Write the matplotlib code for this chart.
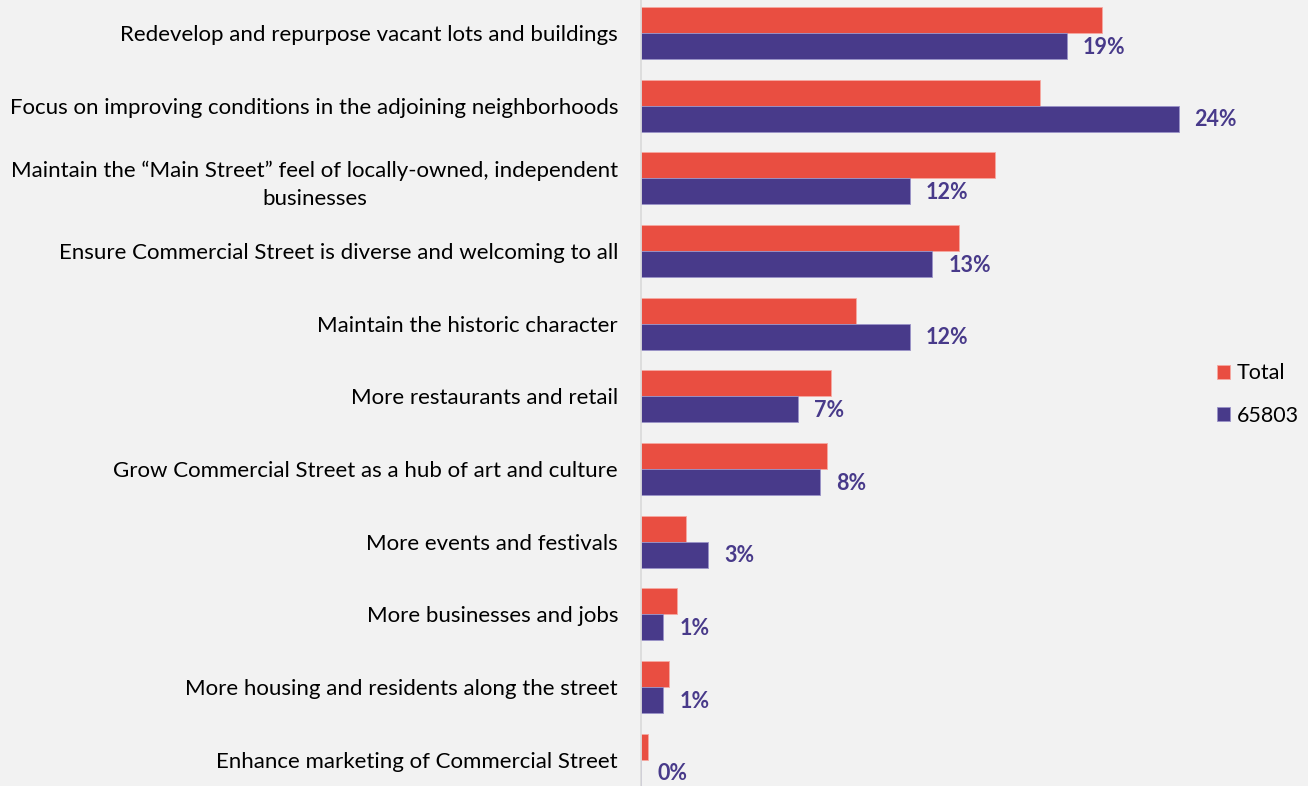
import matplotlib.pyplot as plt
import numpy as np

plt.rcParams['font.family'] = ['Lato', 'DejaVu Sans']

categories = [
    'Redevelop and repurpose vacant lots and buildings',
    'Focus on improving conditions in the adjoining neighborhoods',
    'Maintain the \u201cMain Street\u201d feel of locally-owned, independent\nbusinesses',
    'Ensure Commercial Street is diverse and welcoming to all',
    'Maintain the historic character',
    'More restaurants and retail',
    'Grow Commercial Street as a hub of art and culture',
    'More events and festivals',
    'More businesses and jobs',
    'More housing and residents along the street',
    'Enhance marketing of Commercial Street',
]
total = [20.6, 17.8, 15.8, 14.2, 9.6, 8.5, 8.3, 2.0, 1.6, 1.25, 0.3]
zip_65803 = [19, 24, 12, 13, 12, 7, 8, 3, 1, 1, 0]

red = '#E94E41'
purple = '#483A8A'
bg = '#F2F2F2'

fig = plt.figure(figsize=(13.08, 7.86), dpi=100, facecolor=bg)
ax = fig.add_axes([641 / 1308, 0, 1 - 641 / 1308, 1])
ax.set_facecolor(bg)

y = np.arange(len(categories))
h = 0.358
ax.barh(y - h / 2, total, height=h, color=red, edgecolor='#F6A9A2',
        linewidth=0.6, label='Total')
ax.barh(y + h / 2, zip_65803, height=h, color=purple, edgecolor='#9A93C8',
        linewidth=0.6, label='65803')

for yi, v in zip(y, zip_65803):
    ax.annotate(f'{v}%', (v, yi + h / 2), xytext=(16, -1),
                textcoords='offset pixels', ha='left', va='center',
                color=purple, fontsize=15.5, fontweight='bold')

ax.set_yticks(y)
ax.set_yticklabels(categories, fontsize=16, multialignment='center',
                   linespacing=1.55)
ax.tick_params(axis='y', length=0, pad=16.5)
ax.set_xticks([])
ax.set_xlim(0, 667 / 22.4)
ax.set_ylim(10.36, -0.454)
for s in ['top', 'right', 'bottom']:
    ax.spines[s].set_visible(False)
ax.spines['left'].set_color('#D9D9D9')
ax.spines['left'].set_linewidth(1.2)

ax.legend(loc='center left', bbox_to_anchor=(1217 / 1308, 0.498),
          bbox_transform=fig.transFigure, frameon=False, fontsize=15.5,
          handlelength=0.6, handleheight=0.6, handletextpad=0.3,
          labelspacing=1.05, borderpad=0, borderaxespad=0)

fig.savefig('out.png', dpi=100, facecolor=bg)
